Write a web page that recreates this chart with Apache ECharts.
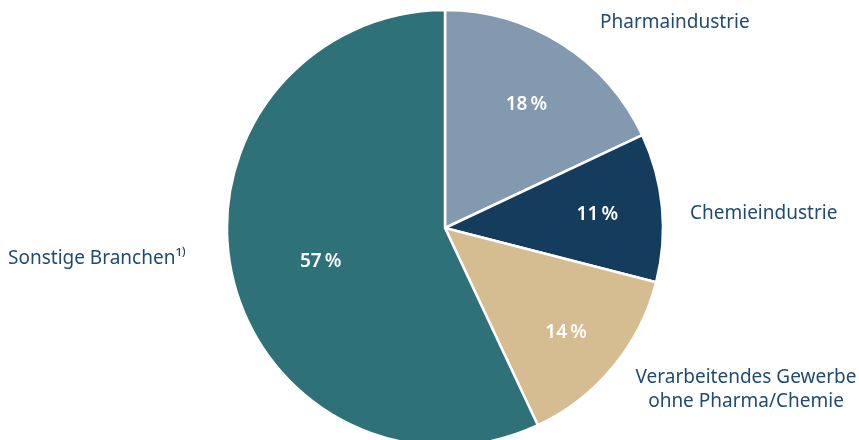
<!DOCTYPE html>
<html>
<head>
<meta charset="utf-8">
<script src="https://cdn.jsdelivr.net/npm/echarts@6/dist/echarts.min.js"></script>
<style>
  html, body { margin: 0; padding: 0; background: #fff; }
  #pie { width: 859px; height: 440px; }
</style>
</head>
<body>
<div id="pie"></div>
<script>
// Anteile nach Branche (in %)
let branchen = ['Pharmaindustrie', 'Chemieindustrie', 'Verarbeitendes Gewerbe\nohne Pharma/Chemie', 'Sonstige Branchen¹⁾']
let anteile = [18, 11, 14, 57]
let farben = ['#8399b0', '#133c5d', '#d6bc91', '#2e7179']
let labelVersatz = [[0, 5], [1, 1], [4, 8], [24, 0]]

let myChart = echarts.init(document.getElementById('pie'))

let txtColor = '#1f4b6e'
let fontName = 'Noto Sans'

let option = {
    animation: false,
    color: farben,
    series: [{
        type: 'pie',
        center: [445, 228],
        radius: [0, 218],
        startAngle: 90,
        clockwise: true,
        silent: true,
        itemStyle: {
            borderColor: '#fff',
            borderWidth: 2.5
        },
        label: {show: false},
        labelLine: {show: false},
        data: anteile.map(function (v, i) {
            return {name: branchen[i], value: v}
        })
    }, {
        // nur für die Prozentwerte, weiter außen
        type: 'pie',
        center: [445, 228],
        radius: [0, 298],
        startAngle: 90,
        clockwise: true,
        silent: true,
        itemStyle: {color: 'rgba(0,0,0,0)'},
        label: {
            show: true,
            position: 'inside',
            formatter: function (p) {
                return p.value + '\u2009%'
            },
            color: '#fff',
            fontFamily: fontName,
            fontWeight: 600,
            fontSize: 19
        },
        labelLine: {show: false},
        data: anteile.map(function (v, i) {
            return {name: branchen[i], value: v, label: {offset: labelVersatz[i]}}
        })
    }],
    // Beschriftungen außen
    graphic: [
        {type: 'text', style: {x: 600, y: 23, text: branchen[0], fill: txtColor, font: '19px ' + fontName, verticalAlign: 'middle'}},
        {type: 'text', style: {x: 690, y: 214, text: branchen[1], fill: txtColor, font: '19px ' + fontName, verticalAlign: 'middle'}},
        {type: 'text', style: {x: 746, y: 390, text: branchen[2], fill: txtColor, font: '19px ' + fontName, align: 'center', verticalAlign: 'middle', lineHeight: 24}},
        {type: 'text', style: {x: 8, y: 259, text: branchen[3], fill: txtColor, font: '19px ' + fontName, verticalAlign: 'middle'}}
    ]
}

myChart.setOption(option)
</script>
</body>
</html>
